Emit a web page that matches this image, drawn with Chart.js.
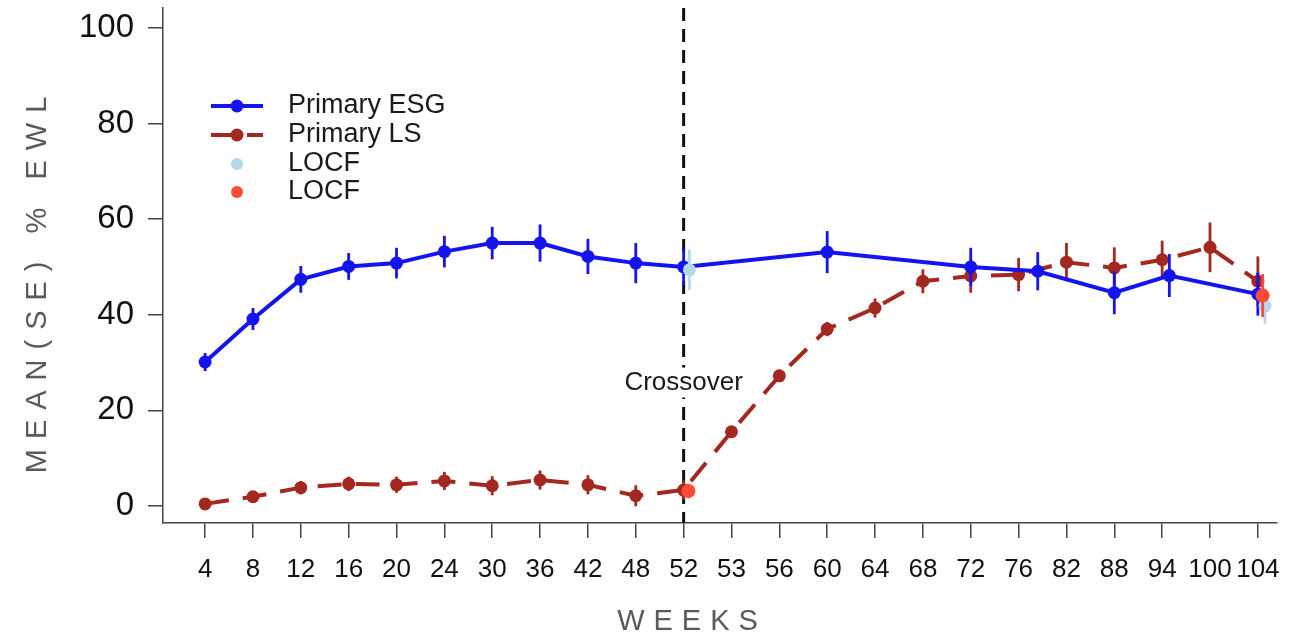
<!DOCTYPE html>
<html>
<head>
<meta charset="utf-8">
<script src="https://cdn.jsdelivr.net/npm/chart.js@4.4.0/dist/chart.umd.min.js"></script>
<style>
  html, body { margin: 0; padding: 0; background: #fff; }
  #wrap { width: 1299px; height: 638px; }
</style>
</head>
<body>
<div id="wrap"><canvas id="ewlChart"></canvas></div>
<script>
const weekLabels = ['4', '8', '12', '16', '20', '24', '30', '36', '42', '48', '52', '53', '56', '60', '64', '68', '72', '76', '82', '88', '94', '100', '104'];

// positions are on the category index of weekLabels
const esgPos = [0, 1, 2, 3, 4, 5, 6, 7, 8, 9, 10, 13, 16, 17.4, 19, 20.15, 22];
const esgMean = [30.1, 39.1, 47.4, 50.1, 50.8, 53.2, 55, 55, 52.2, 50.8, 50, 53.1, 50, 49.1, 44.6, 48.2, 44.3];
const esgSe = [1.9, 2.3, 2.8, 2.8, 3.2, 3.3, 3.4, 3.9, 3.7, 4.2, 3.8, 4.4, 4, 4, 4.5, 4.5, 4.5];

const lsPos = [0, 1, 2, 3, 4, 5, 6, 7, 8, 9, 10, 11, 12, 13, 14, 15, 16, 17, 18, 19, 20, 21, 22];
const lsMean = [0.4, 1.9, 3.8, 4.6, 4.4, 5.2, 4.2, 5.4, 4.4, 2.1, 3.3, 15.5, 27.2, 37, 41.4, 47, 48.1, 48.4, 51, 49.8, 51.5, 54.1, 47];
const lsSe = [0.5, 0.6, 1.4, 1.5, 1.7, 1.9, 2, 2, 2, 2.2, 2, 0.8, 1.3, 1.5, 2, 2.5, 3.5, 3.5, 4, 4.3, 4, 5.2, 5.2];

const locfEsgPos = [10.12, 22.15];
const locfEsgMean = [49.4, 41.8];
const locfEsgSe = [4.2, 3.7];

const locfLsPos = [10.1, 22.1];
const locfLsMean = [3.1, 44];
const locfLsSe = [1.5, 4.5];

const crossoverPos = 10;

const BLUE = '#1414f0';
const BROWN = '#a3281f';
const LIGHTBLUE = '#b5d8e8';
const TOMATO = '#ff4b36';

function toPoints(pos, vals) {
  return pos.map((p, i) => ({ x: p, y: vals[i] }));
}

const errorBars = {
  id: 'errorBars',
  afterDatasetDraw(chart, args) {
    const ds = chart.data.datasets[args.index];
    if (!ds.se) return;
    const ctx = chart.ctx;
    const xs = chart.scales.x;
    const ys = chart.scales.y;
    ctx.save();
    ctx.strokeStyle = ds.errColor || ds.borderColor;
    ctx.lineWidth = 2.8;
    ds.data.forEach((pt, i) => {
      const px = xs.getPixelForValue(pt.x);
      ctx.beginPath();
      ctx.moveTo(px, ys.getPixelForValue(pt.y - ds.se[i]));
      ctx.lineTo(px, ys.getPixelForValue(pt.y + ds.se[i]));
      ctx.stroke();
    });
    ctx.restore();
  }
};

const crossover = {
  id: 'crossover',
  beforeDatasetsDraw(chart) {
    const ctx = chart.ctx;
    const area = chart.chartArea;
    const x = chart.scales.x.getPixelForValue(crossoverPos);
    ctx.save();
    ctx.strokeStyle = '#111';
    ctx.lineWidth = 3;
    ctx.setLineDash([13, 8]);
    ctx.beginPath();
    ctx.moveTo(x, area.top);
    ctx.lineTo(x, area.bottom);
    ctx.stroke();
    ctx.setLineDash([]);
    ctx.font = '26px "Liberation Sans", Arial, sans-serif';
    ctx.textAlign = 'center';
    ctx.textBaseline = 'middle';
    const ty = chart.scales.y.getPixelForValue(25.8);
    const w = ctx.measureText('Crossover').width;
    ctx.fillStyle = '#fff';
    ctx.fillRect(x - w / 2 - 4, ty - 15, w + 8, 30);
    ctx.fillStyle = '#1a1a1a';
    ctx.fillText('Crossover', x, ty);
    ctx.restore();
  }
};

const legendBox = {
  id: 'legendBox',
  afterDraw(chart) {
    const ctx = chart.ctx;
    const x0 = 211, x1 = 263, xm = 237, tx = 288;
    const rows = [106, 135, 164, 192];
    ctx.save();
    ctx.lineWidth = 4;
    ctx.strokeStyle = BLUE;
    ctx.beginPath(); ctx.moveTo(x0, rows[0]); ctx.lineTo(x1, rows[0]); ctx.stroke();
    ctx.fillStyle = BLUE;
    ctx.beginPath(); ctx.arc(xm, rows[0], 6.5, 0, Math.PI * 2); ctx.fill();
    ctx.strokeStyle = BROWN;
    ctx.setLineDash([28, 8]);
    ctx.beginPath(); ctx.moveTo(x0, rows[1]); ctx.lineTo(x1, rows[1]); ctx.stroke();
    ctx.setLineDash([]);
    ctx.fillStyle = BROWN;
    ctx.beginPath(); ctx.arc(xm, rows[1], 6.5, 0, Math.PI * 2); ctx.fill();
    ctx.fillStyle = LIGHTBLUE;
    ctx.beginPath(); ctx.arc(xm, rows[2], 6, 0, Math.PI * 2); ctx.fill();
    ctx.fillStyle = TOMATO;
    ctx.beginPath(); ctx.arc(xm, rows[3], 6, 0, Math.PI * 2); ctx.fill();
    ctx.font = '27px "Liberation Sans", Arial, sans-serif';
    ctx.fillStyle = '#1a1a1a';
    ctx.textBaseline = 'middle';
    ['Primary ESG', 'Primary LS', 'LOCF', 'LOCF'].forEach((t, i) => ctx.fillText(t, tx, rows[i]));
    ctx.restore();
  }
};

const axisTitles = {
  id: 'axisTitles',
  afterDraw(chart) {
    const ctx = chart.ctx;
    ctx.save();
    ctx.fillStyle = '#5a5a5a';
    ctx.font = '29px "Liberation Sans", Arial, sans-serif';
    ctx.textAlign = 'center';
    ctx.textBaseline = 'middle';
    ctx.letterSpacing = '9px';
    ctx.fillText('WEEKS', 688 + 4, 622);
    ctx.translate(38, 285);
    ctx.rotate(-Math.PI / 2);
    ctx.letterSpacing = '10px';
    ctx.fillText('MEAN(SE) % EWL', 5, 0);
    ctx.restore();
  }
};

new Chart(document.getElementById('ewlChart'), {
  type: 'line',
  data: {
    datasets: [
      {
        label: 'LOCF',
        data: toPoints(locfLsPos, locfLsMean),
        se: locfLsSe,
        showLine: false,
        pointRadius: 7,
        pointBackgroundColor: TOMATO,
        pointBorderWidth: 0,
        borderColor: TOMATO,
        order: -2
      },
      {
        label: 'LOCF',
        data: toPoints(locfEsgPos, locfEsgMean),
        se: locfEsgSe,
        showLine: false,
        pointRadius: 6.5,
        pointBackgroundColor: LIGHTBLUE,
        pointBorderWidth: 0,
        borderColor: LIGHTBLUE,
        order: -1
      },
      {
        label: 'Primary ESG',
        data: toPoints(esgPos, esgMean),
        se: esgSe,
        borderColor: BLUE,
        backgroundColor: BLUE,
        borderWidth: 4,
        pointRadius: 6.5,
        pointBackgroundColor: BLUE,
        pointBorderWidth: 0,
        tension: 0,
        order: 1
      },
      {
        label: 'Primary LS',
        data: toPoints(lsPos, lsMean),
        se: lsSe,
        borderColor: BROWN,
        backgroundColor: BROWN,
        borderWidth: 4,
        borderDash: [24, 14],
        pointRadius: 6.5,
        pointBackgroundColor: BROWN,
        pointBorderWidth: 0,
        tension: 0,
        order: 2
      }
    ]
  },
  options: {
    responsive: true,
    maintainAspectRatio: false,
    animation: false,
    layout: { padding: { top: 8, right: 22, left: 0, bottom: 0 } },
    scales: {
      x: {
        type: 'linear',
        min: -0.88,
        max: 22.4,
        afterFit: (scale) => {
          scale.height = 115;
          scale.paddingLeft = 0;
          scale.paddingRight = 0;
        },
        grid: { display: true, drawOnChartArea: false, drawTicks: true, tickLength: 15, color: '#444', lineWidth: 1.5 },
        border: { display: true, color: '#444', width: 1.5 },
        ticks: {
          stepSize: 1,
          includeBounds: false,
          autoSkip: false,
          maxRotation: 0,
          maxTicksLimit: 40,
          padding: 16,
          color: '#111',
          font: { family: '"Liberation Sans", Arial, sans-serif', size: 26 },
          callback: function (value) {
            return Number.isInteger(value) ? weekLabels[value] : '';
          }
        }
      },
      y: {
        min: -3.6,
        max: 104.2,
        afterFit: (scale) => {
          scale.width = 163;
          scale.paddingTop = 0;
          scale.paddingBottom = 0;
        },
        grid: { display: true, drawOnChartArea: false, drawTicks: true, tickLength: 15, color: '#444', lineWidth: 1.5 },
        border: { display: true, color: '#444', width: 1.5 },
        ticks: {
          stepSize: 20,
          includeBounds: false,
          padding: 14,
          color: '#111',
          font: { family: '"Liberation Sans", Arial, sans-serif', size: 33 }
        }
      }
    },
    plugins: {
      legend: { display: false },
      tooltip: { enabled: false }
    }
  },
  plugins: [crossover, errorBars, legendBox, axisTitles]
});
</script>
</body>
</html>
